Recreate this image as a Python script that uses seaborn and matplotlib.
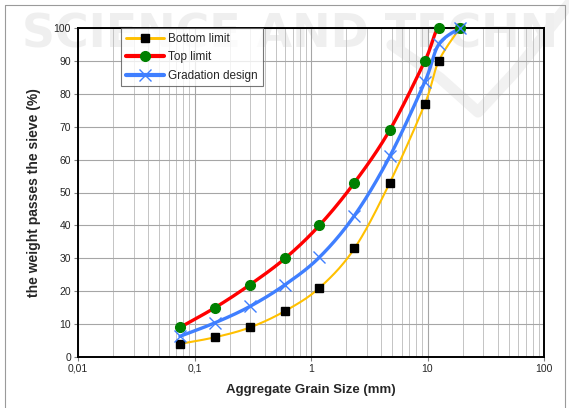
"""
plot.py - grading curve: sieve size vs percent passing (limits + design)
"""
import numpy as np
import matplotlib
matplotlib.use("Agg")
import matplotlib.pyplot as plt
import matplotlib.ticker as mticker
from matplotlib.lines import Line2D
import seaborn as sns

sns.set_theme(style="white")
plt.rcParams["font.family"] = ["Liberation Sans", "DejaVu Sans"]

# ── data ───────────────────────────────────────────────
sieve_mm = [0.075, 0.15, 0.3, 0.6, 1.18, 2.36, 4.75, 9.5, 12.5, 19]
bottom_limit = [4, 6, 9, 14, 21, 33, 53, 77, 90, 100]
top_limit = [9, 15, 22, 30, 40, 53, 69, 90, 100, 100]
gradation = [6.3, 10.4, 15.4, 22, 30.3, 43, 61, 83.7, 95, 100]

x_ticks = [0.01, 0.1, 1, 10, 100]
x_tick_labels = ["0,01", "0,1", "1", "10", "100"]


def smooth(xs, ys, n=40):
    """Excel-style smoothed line (Catmull-Rom bezier in log-x space)."""
    px = np.log10(np.asarray(xs, float))
    py = np.asarray(ys, float)
    P = np.column_stack([px, py])
    P = np.vstack([P[0], P, P[-1]])
    out = []
    t = np.linspace(0, 1, n)[:, None]
    for i in range(1, len(P) - 2):
        p0, p1, p2, p3 = P[i - 1], P[i], P[i + 1], P[i + 2]
        b1 = p1 + (p2 - p0) / 6
        b2 = p2 - (p3 - p1) / 6
        seg = ((1 - t) ** 3 * p1 + 3 * (1 - t) ** 2 * t * b1
               + 3 * (1 - t) * t ** 2 * b2 + t ** 3 * p2)
        out.append(seg if i == 1 else seg[1:])
    seg = np.vstack(out)
    return 10 ** seg[:, 0], seg[:, 1]


fig = plt.figure(figsize=(5.69, 4.08), dpi=100)

# faint watermark behind the chart
fig.text(22 / 569, 1 - 13 / 408, "SCIENCE AND TECHN", fontsize=33, fontweight="bold",
         color="#efefef", va="top", ha="left", zorder=-5,
         family="DejaVu Sans")
wx = np.array([392, 440, 478, 515, 569]) / 569
wy = 1 - np.array([45, 78, 112, 72, 4]) / 408
fig.add_artist(Line2D(wx, wy, transform=fig.transFigure, color="#f1f1f1",
                      lw=8, solid_capstyle="round", zorder=-5))
# outer frame (left, top, right)
fig.add_artist(Line2D([5 / 569, 5 / 569, 565 / 569, 565 / 569],
                      [0, 1 - 5 / 408, 1 - 5 / 408, 0],
                      transform=fig.transFigure, color="#9a9a9a", lw=0.8))

ax = fig.add_axes([78 / 569, 1 - 357 / 408, (544 - 78) / 569, (357 - 28) / 408])
ax.set_facecolor("none")
ax.set_xscale("log")
ax.set_xlim(0.01, 100)
ax.set_ylim(0, 100)

series = [
    ("Bottom limit", bottom_limit, "#FFC000", 1.5, dict(marker="s", ms=6, mfc="black", mec="black")),
    ("Top limit", top_limit, "#FF0000", 2.4, dict(marker="o", ms=7, mfc="#008000", mec="#008000")),
    ("Gradation design", gradation, "#3F7FFF", 2.4, dict(marker="x", ms=8, mew=1.0, mec="#3F7FFF")),
]
handles = []
for label, vals, color, lw, mk in series:
    sx, sy = smooth(sieve_mm, vals)
    sns.lineplot(x=sx, y=sy, ax=ax, color=color, lw=lw, sort=False,
                 estimator=None, zorder=3)
    ax.plot(sieve_mm, vals, ls="none", zorder=4, clip_on=False, **mk)
    handles.append(Line2D([], [], color=color, lw=lw + 0.6, label=label, **mk))

# grid
ax.xaxis.set_major_locator(mticker.FixedLocator(x_ticks))
ax.xaxis.set_major_formatter(mticker.FixedFormatter(x_tick_labels))
ax.xaxis.set_minor_locator(mticker.LogLocator(base=10, subs=np.arange(2, 10)))
ax.xaxis.set_minor_formatter(mticker.NullFormatter())
ax.yaxis.set_major_locator(mticker.MultipleLocator(10))
ax.grid(which="major", axis="both", color="#a6a6a6", lw=0.8)
ax.grid(which="minor", axis="x", color="#c4c4c4", lw=0.7)
ax.set_axisbelow(True)

for s in ax.spines.values():
    s.set_color("black")
    s.set_linewidth(1.4)

ax.tick_params(axis="both", which="major", labelsize=7.5, length=3, width=0.8,
               color="#808080", direction="out", bottom=True, left=True, pad=2)
ax.tick_params(axis="x", which="minor", length=0)

ax.set_xlabel("Aggregate Grain Size (mm)", fontsize=9.5, fontweight="bold", labelpad=7)
ax.set_ylabel("the weight passes the sieve (%)", fontsize=10, fontweight="bold", labelpad=9)

leg = ax.legend(handles=handles, loc="upper left", bbox_to_anchor=(43 / 466, 1.0),
                fontsize=8.5, frameon=True, fancybox=False, handlelength=3.2,
                handletextpad=0.4, borderpad=0.4, labelspacing=0.55,
                borderaxespad=0)
leg.get_frame().set_edgecolor("#555555")
leg.get_frame().set_linewidth(0.8)
leg.get_frame().set_facecolor("white")

fig.savefig("out.png", dpi=100)
